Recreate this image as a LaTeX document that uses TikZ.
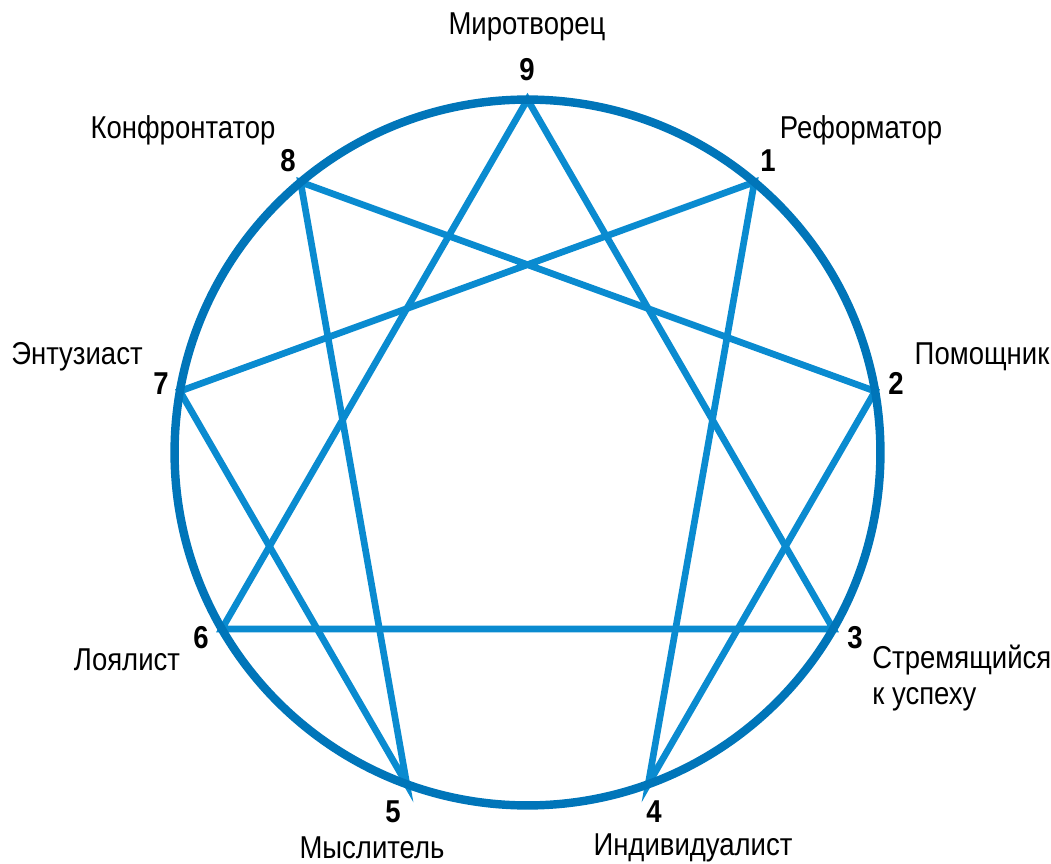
\documentclass[tikz,border=0pt]{standalone}
\usepackage{fontspec}
\setmainfont{Liberation Sans}[FakeStretch=0.87]
\usepackage{tikz}
\definecolor{ringblue}{HTML}{0075B9}
\definecolor{lineblue}{HTML}{0A8BD0}
\tikzset{
  ring/.style={draw=ringblue, line width=4.8pt},
  chord/.style={draw=lineblue, line width=3.8pt},
  typename/.style={font=\fontsize{18}{21}\selectfont, inner sep=0pt},
  typenum/.style={font=\fontsize{18}{21}\selectfont\bfseries, inner sep=0pt},
}

\begin{document}
\begin{tikzpicture}[x=0.02cm, y=-0.02cm]
  \useasboundingbox (0,0) rectangle (1051,864);
  % points on the circle, every 40 degrees
  \coordinate (c) at (527.5,452.5);
  \coordinate (p9) at (527.5,99.5);
  \coordinate (p1) at (754.4,182.1);
  \coordinate (p2) at (875.1,391.2);
  \coordinate (p3) at (833.2,629.0);
  \coordinate (p4) at (648.2,784.2);
  \coordinate (p5) at (406.8,784.2);
  \coordinate (p6) at (221.8,629.0);
  \coordinate (p7) at (179.9,391.2);
  \coordinate (p8) at (300.6,182.1);
  % triangle
  \draw[chord] (p9) -- (p3) -- (p6) -- cycle;
  % hexad
  \draw[chord] (p1) -- (p4) -- (p2) -- (p8) -- (p5) -- (p7) -- cycle;
  \draw[ring] (c) circle (7.06cm);
  % numbers
  \node[typenum] (n9) at (527,70) {9};
  \node[typenum] (n1) at (768,161) {1};
  \node[typenum] (n2) at (896,383) {2};
  \node[typenum] (n3) at (855,638) {3};
  \node[typenum] (n4) at (654,812) {4};
  \node[typenum] (n5) at (393,812) {5};
  \node[typenum] (n6) at (201,638) {6};
  \node[typenum] (n7) at (161,384) {7};
  \node[typenum] (n8) at (288,161) {8};
  % names
  \node[typename] (t9) at (527,27) {Миротворец};
  \node[typename] (t1) at (861,130) {Реформатор};
  \node[typename] (t2) at (982,357) {Помощник};
  \node[typename, anchor=west, align=left] (t3) at (872,678) {Стремящийся\\к успеху};
  \node[typename] (t4) at (693,848) {Индивидуалист};
  \node[typename] (t5) at (372,848) {Мыслитель};
  \node[typename] (t6) at (127,660) {Лоялист};
  \node[typename] (t7) at (77,357) {Энтузиаст};
  \node[typename] (t8) at (183,130) {Конфронтатор};
\end{tikzpicture}
\end{document}
